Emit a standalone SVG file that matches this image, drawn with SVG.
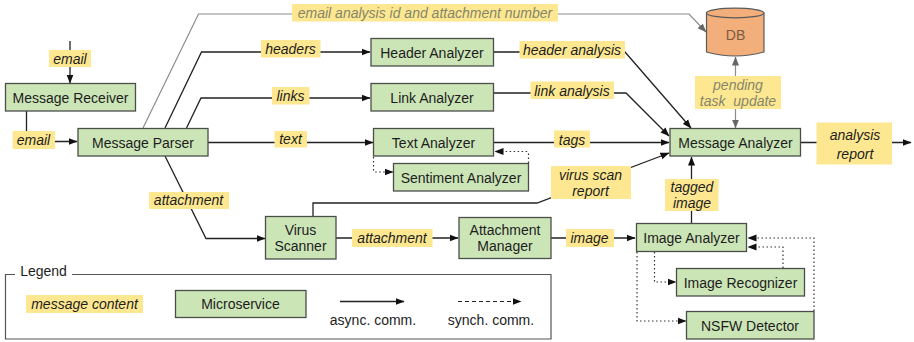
<svg xmlns="http://www.w3.org/2000/svg" width="914" height="342" viewBox="0 0 914 342">
<style>
text{font-family:"Liberation Sans",Arial,sans-serif;font-size:14px;fill:#1d1d1d;text-anchor:middle;white-space:pre}
.n{fill:#cce5b7;stroke:#4a4f4a;stroke-width:1.3}
.l{fill:#fde891}
.t{font-style:italic}
.g{fill:#85856a}
.c{fill:none;stroke:#222;stroke-width:1.3}
.h{fill:none;stroke:#8c8c8c;stroke-width:1.2}
.d{fill:none;stroke:#333;stroke-width:1.2;stroke-dasharray:1.5 2.5}
</style>
<defs>
<marker id="a" markerUnits="userSpaceOnUse" markerWidth="9" markerHeight="8" refX="8.5" refY="4" orient="auto"><path d="M0 0.500L9 4L0 7.500z" fill="#111"/></marker>
<marker id="b" markerUnits="userSpaceOnUse" markerWidth="9" markerHeight="8" refX="8.5" refY="4" orient="auto-start-reverse"><path d="M0 0.500L9 4L0 7.500z" fill="#666"/></marker>
</defs>
<g id="connectors">
<path class="c" marker-end="url(#a)" d="M70 41V83"/>
<path class="c" marker-end="url(#a)" d="M26.500 111V141.500H77"/>
<path class="h" marker-end="url(#b)" d="M143 128L198.500 14H689L706 32"/>
<path class="c" marker-end="url(#a)" d="M165 128L201.500 52H370"/>
<path class="c" marker-end="url(#a)" d="M186.500 128L201 98H370"/>
<path class="c" marker-end="url(#a)" d="M208 142.500H373"/>
<path class="c" marker-end="url(#a)" d="M165 156L206 238.500H265"/>
<path class="c" marker-end="url(#a)" d="M336 238H458"/>
<path class="c" marker-end="url(#a)" d="M551 238H635"/>
<path class="c" marker-end="url(#a)" d="M493.500 52H625L691 128"/>
<path class="c" marker-end="url(#a)" d="M493.500 93H626L669 136"/>
<path class="c" marker-end="url(#a)" d="M493.500 142.500H669"/>
<path class="c" marker-end="url(#a)" d="M313 216V203H537L669 153"/>
<path class="c" marker-end="url(#a)" d="M691.500 223V157"/>
<path class="c" marker-end="url(#a)" d="M800.500 142.500H911"/>
<path class="h" marker-end="url(#b)" marker-start="url(#b)" d="M735.500 128V57"/>
<path class="d" marker-end="url(#a)" d="M373.500 157V171Q373.500 172 375 172H393"/>
<path class="d" marker-end="url(#a)" d="M528.500 163V153Q528.500 151.500 527 151.500H495"/>
<path class="d" marker-end="url(#a)" d="M654.500 252V282H676"/>
<path class="d" marker-end="url(#a)" d="M637 252V321H686"/>
<path class="d" marker-end="url(#a)" d="M783 268V247H748"/>
<path class="d" marker-end="url(#a)" d="M814 311V238H748"/>
</g>
<g id="message-receiver"><rect class="n" x="5.500" y="83.500" width="130" height="27.500"/><text x="70.500" y="102.500">Message Receiver</text></g>
<g id="message-parser"><rect class="n" x="78" y="128.500" width="130" height="27.500"/><text x="143" y="147.500">Message Parser</text></g>
<g id="header-analyzer"><rect class="n" x="371" y="38.500" width="122.500" height="27.500"/><text x="432" y="57.500">Header Analyzer</text></g>
<g id="link-analyzer"><rect class="n" x="371" y="83.500" width="122.500" height="27.500"/><text x="432" y="102.500">Link Analyzer</text></g>
<g id="text-analyzer"><rect class="n" x="373.500" y="128.500" width="120" height="27.500"/><text x="433.500" y="147.500">Text Analyzer</text></g>
<g id="sentiment-analyzer"><rect class="n" x="393.500" y="163.500" width="135" height="27.500"/><text x="461" y="182.500">Sentiment Analyzer</text></g>
<g id="message-analyzer"><rect class="n" x="670" y="128.500" width="130.500" height="27.500"/><text x="735.500" y="147.500">Message Analyzer</text></g>
<g id="virus-scanner"><rect class="n" x="265.500" y="216.500" width="70.500" height="42.500"/><text x="300.500" y="235">Virus</text><text x="300.500" y="251">Scanner</text></g>
<g id="attachment-manager"><rect class="n" x="459" y="217.500" width="92" height="41"/><text x="505" y="235">Attachment</text><text x="505" y="251">Manager</text></g>
<g id="image-analyzer"><rect class="n" x="636.500" y="223.500" width="110" height="28"/><text x="691.500" y="243">Image Analyzer</text></g>
<g id="image-recognizer"><rect class="n" x="676.500" y="268.500" width="128" height="27.500"/><text x="740.500" y="287.500">Image Recognizer</text></g>
<g id="nsfw-detector"><rect class="n" x="686.500" y="311.500" width="127.500" height="27.500"/><text x="750" y="330.500">NSFW Detector</text></g>
<g id="db"><path d="M706.500 13V52Q735 60 764 52V13z" fill="#f2ae7b" stroke="#5a5a5a" stroke-width="1.2"/><ellipse cx="735.200" cy="13" rx="28.700" ry="4.800" fill="#f2ae7b" stroke="#5a5a5a" stroke-width="1.200"/><text x="735.500" y="40" style="fill:#7d5a42">DB</text></g>
<g id="labels">
<rect class="l" x="49" y="50" width="42" height="17"/><text class="t" x="70" y="63.500">email</text>
<rect class="l" x="12.500" y="131" width="42.500" height="18"/><text class="t" x="33.500" y="145">email</text>
<rect class="l" x="292" y="4" width="266" height="17.500"/><text class="t" x="425" y="18" style="fill:#85856a">email analysis id and attachment number</text>
<rect class="l" x="261" y="40" width="59.500" height="17.500"/><text class="t" x="290.500" y="53.500">headers</text>
<rect class="l" x="272" y="87" width="37.500" height="17.500"/><text class="t" x="290.500" y="100.500">links</text>
<rect class="l" x="274.500" y="131" width="32.500" height="16.500"/><text class="t" x="290.500" y="144">text</text>
<rect class="l" x="149" y="192" width="80" height="17"/><text class="t" x="188.500" y="205">attachment</text>
<rect class="l" x="352" y="229" width="80.500" height="18"/><text class="t" x="392" y="243">attachment</text>
<rect class="l" x="566" y="229" width="48" height="18"/><text class="t" x="589.500" y="243">image</text>
<rect class="l" x="519.500" y="41" width="105.500" height="17.500"/><text class="t" x="572" y="54.500">header analysis</text>
<rect class="l" x="530.500" y="81.500" width="83.500" height="17.500"/><text class="t" x="572" y="95.500">link analysis</text>
<rect class="l" x="554" y="130.500" width="36" height="17"/><text class="t" x="572" y="144.500">tags</text>
<rect class="l" x="551" y="166" width="80" height="33"/><text class="t" x="590.500" y="180">virus scan</text><text class="t" x="590.500" y="196">report</text>
<rect class="l" x="665" y="179" width="53.500" height="32"/><text class="t" x="692" y="192">tagged</text><text class="t" x="692" y="208">image</text>
<rect class="l" x="695" y="76" width="86" height="33"/><text class="t" x="738" y="90" style="fill:#85856a">pending</text><text class="t" x="738" y="106" style="fill:#85856a">task  update</text>
<rect class="l" x="816.500" y="122.500" width="75.500" height="42"/><text class="t" x="855" y="140">analysis</text><text class="t" x="855" y="159">report</text>
</g>
<g id="legend">
<path fill="none" stroke="#555" stroke-width="1.200" d="M15 274.500H5.500V339H551V274.500H72"/>
<text x="43.500" y="276">Legend</text>
<rect class="l" x="26" y="295" width="117" height="18"/><text class="t" x="84.500" y="309">message content</text>
<rect class="n" x="175.500" y="290.500" width="130.500" height="27"/><text x="240.500" y="309">Microservice</text>
<path class="c" marker-end="url(#a)" d="M340 301.500H404"/>
<text x="373" y="325">async. comm.</text>
<path fill="none" stroke="#222" stroke-width="1.200" stroke-dasharray="4 3" marker-end="url(#a)" d="M458 301.500H521"/>
<text x="491" y="325">synch. comm.</text>
</g>
</svg>
